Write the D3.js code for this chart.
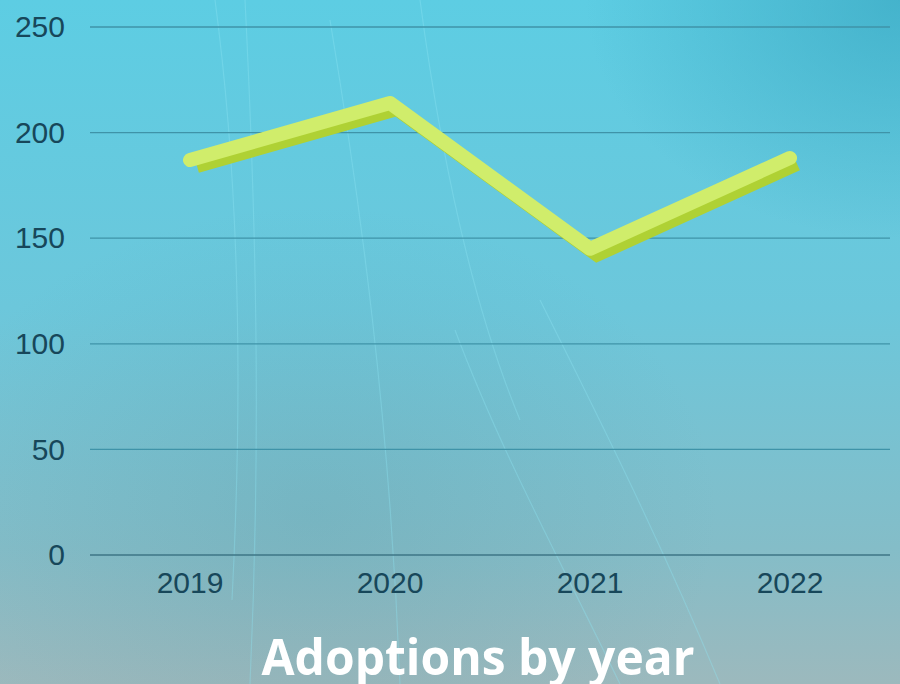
<!DOCTYPE html>
<html><head><meta charset="utf-8">
<script src="https://cdn.jsdelivr.net/npm/d3@7/dist/d3.min.js"></script>
<style>html,body{margin:0;padding:0;overflow:hidden;}svg{display:block;}</style>
</head><body>
<svg id="chart" width="900" height="684"></svg>
<script>
const categories = ["2019", "2020", "2021", "2022"];
const adoptions = [187, 214, 145, 188];
const yTicks = [0, 50, 100, 150, 200, 250];
const title = "Adoptions by year";

const W = 900, H = 684;
const svg = d3.select("#chart");
const defs = svg.append("defs");

const bg = defs.append("linearGradient").attr("id","bg").attr("x1",0).attr("y1",0).attr("x2",0).attr("y2",1);
bg.append("stop").attr("offset","0%").attr("stop-color","#5dcde3");
bg.append("stop").attr("offset","45%").attr("stop-color","#6cc7db");
bg.append("stop").attr("offset","80%").attr("stop-color","#84bdc8");
bg.append("stop").attr("offset","100%").attr("stop-color","#9cb9bd");
const tr = defs.append("radialGradient").attr("id","tr").attr("cx",1).attr("cy",0).attr("r",0.35);
tr.append("stop").attr("offset","0%").attr("stop-color","#3aa8c2").attr("stop-opacity",0.7);
tr.append("stop").attr("offset","100%").attr("stop-color","#3aa8c2").attr("stop-opacity",0);
const sh = defs.append("radialGradient").attr("id","sh").attr("cx",0.35).attr("cy",0.75).attr("r",0.45);
sh.append("stop").attr("offset","0%").attr("stop-color","#4f8f9c").attr("stop-opacity",0.2);
sh.append("stop").attr("offset","100%").attr("stop-color","#4f8f9c").attr("stop-opacity",0);

svg.append("rect").attr("width",W).attr("height",H).attr("fill","url(#bg)");
svg.append("rect").attr("width",W).attr("height",H).attr("fill","url(#tr)");
svg.append("rect").attr("width",W).attr("height",H).attr("fill","url(#sh)");

// faint feather streaks (decorative background)
const streaks = [
  "M215,0 C235,150 245,350 232,600",
  "M245,0 C255,200 262,420 250,684",
  "M330,20 C360,200 390,420 400,684",
  "M420,0 C440,150 470,300 520,420",
  "M455,330 C500,450 560,560 620,684",
  "M540,300 C600,420 660,540 720,684"
];
svg.append("g").selectAll("path").data(streaks).join("path")
  .attr("d", d => d).attr("fill","none")
  .attr("stroke","#8fe6f4").attr("stroke-opacity",0.35).attr("stroke-width",1.2);

const x = d3.scaleBand().domain(categories).range([90, 890]);
const y = d3.scaleLinear().domain([0, 250]).range([555, 27]);

// gridlines
svg.append("g").selectAll("line").data(yTicks).join("line")
  .attr("x1", 90).attr("x2", 890)
  .attr("y1", d => y(d)).attr("y2", d => y(d))
  .attr("stroke", d => d === 0 ? "#3e7686" : "#3f93a8")
  .attr("stroke-width", 1.3);

// y axis labels
const yAxis = svg.append("g").attr("transform","translate(90,0)")
  .call(d3.axisLeft(y).tickValues(yTicks).tickSize(0).tickPadding(25));
yAxis.select(".domain").remove();
yAxis.selectAll("text").attr("font-family","'Liberation Sans', Arial, sans-serif")
  .attr("font-size", 30).attr("fill","#17475a");

// x axis labels
const xAxis = svg.append("g").attr("transform","translate(0,555)")
  .call(d3.axisBottom(x).tickSize(0).tickPadding(17));
xAxis.select(".domain").remove();
xAxis.selectAll("text").attr("font-family","'Liberation Sans', Arial, sans-serif")
  .attr("font-size", 30).attr("fill","#17475a");

const pts = categories.map((c, i) => [x(c) + x.bandwidth()/2, y(adoptions[i])]);
const line = d3.line();

// shadow line
svg.append("path").attr("d", line(pts)).attr("fill","none")
  .attr("transform","translate(7,6)")
  .attr("stroke","#afd134").attr("stroke-width",14)
  .attr("stroke-linecap","butt").attr("stroke-linejoin","miter");
// main line
svg.append("path").attr("d", line(pts)).attr("fill","none")
  .attr("stroke","#d0ed6b").attr("stroke-width",14)
  .attr("stroke-linecap","round").attr("stroke-linejoin","round");

svg.append("text").attr("x", 478).attr("y", 675)
  .attr("text-anchor","middle")
  .attr("font-family","'Open Sans', 'Noto Sans', sans-serif").attr("font-weight","bold")
  .attr("font-size", 50).attr("fill","#ffffff")
  .attr("textLength", 433).attr("lengthAdjust","spacingAndGlyphs")
  .text(title);
</script>
</body></html>
